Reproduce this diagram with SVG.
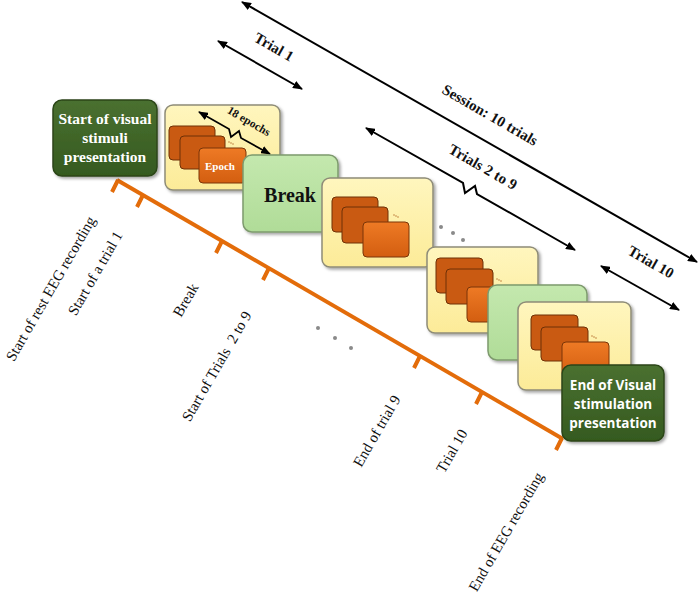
<svg xmlns="http://www.w3.org/2000/svg" width="700" height="598" viewBox="0 0 700 598">
<defs>
  <filter id="sh" x="-20%" y="-20%" width="140%" height="140%">
    <feDropShadow dx="2" dy="2" stdDeviation="1.5" flood-color="#000" flood-opacity="0.35"/>
  </filter>
  <linearGradient id="gY" x1="0" y1="0" x2="0" y2="1">
    <stop offset="0" stop-color="#FFF6BE"/>
    <stop offset="1" stop-color="#FCEB98"/>
  </linearGradient>
  <linearGradient id="gG" x1="0" y1="0" x2="0" y2="1">
    <stop offset="0" stop-color="#C4E8AE"/>
    <stop offset="1" stop-color="#B0DC98"/>
  </linearGradient>
  <linearGradient id="gD" x1="0" y1="0" x2="0" y2="1">
    <stop offset="0" stop-color="#4A7030"/>
    <stop offset="1" stop-color="#355A1F"/>
  </linearGradient>
  <linearGradient id="gO" x1="0" y1="0" x2="0" y2="1">
    <stop offset="0" stop-color="#EE7A25"/>
    <stop offset="1" stop-color="#D35E10"/>
  </linearGradient>
  <marker id="ah" viewBox="0 0 10 8" refX="9" refY="4" markerWidth="10" markerHeight="8" markerUnits="userSpaceOnUse" orient="auto-start-reverse">
    <path d="M0,0 L10,4 L0,8 Z" fill="#000"/>
  </marker>
  <style>
    .card{fill:url(#gY);stroke:#8E8C78;stroke-width:1.5;filter:url(#sh)}
    .brk{fill:url(#gG);stroke:#7E9A6E;stroke-width:1.5;filter:url(#sh)}
    .dark{fill:url(#gD);stroke:#2C4619;stroke-width:1.5;filter:url(#sh)}
    .ep{fill:#C95A12;stroke:#6E3006;stroke-width:1}
    .ep2{fill:url(#gO);stroke:#7A3508;stroke-width:1}
    .arr{stroke:#000;stroke-width:2;fill:none;marker-start:url(#ah);marker-end:url(#ah)}
    .tl{stroke:#E36C0A;stroke-width:4;fill:none;stroke-linecap:butt}
    .lbl{font-family:"Liberation Serif","Times New Roman",serif;font-size:15px;fill:#111;text-anchor:end}
    .alb{font-family:"Liberation Serif","Times New Roman",serif;font-size:15px;font-weight:bold;fill:#111;text-anchor:middle}
    .wt{font-family:"Liberation Serif","Times New Roman",serif;font-size:15.5px;font-weight:bold;fill:#fff;text-anchor:middle}
    .ws{font-family:"Open Sans","Liberation Sans",sans-serif;font-size:13.5px;font-weight:bold;fill:#fff;text-anchor:middle}
    .dot{fill:#8A8A8A}
    .sd{fill:#C08040}
  </style>
</defs>

<g id="connectors">
  <path class="arr" d="M242,2 L697,262"/>
  <path class="arr" d="M218,41 L302,89"/>
  <path class="arr" d="M366,128 L463,183 L465,193 L475,186 L477,194 L575,250"/>
  <path class="arr" d="M601,266 L679,310"/>
</g>

<g id="timeline">
  <path class="tl" d="M117,180 L563,439"/>
  <path class="tl" d="M118,180 L112,192 M143,195 L137,207 M222,241 L216,253 M269,268 L263,280 M420,356 L414,368 M482,392 L476,404 M562,438 L556,450"/>
  <circle class="dot" cx="318" cy="328" r="2"/>
  <circle class="dot" cx="335" cy="338" r="2"/>
  <circle class="dot" cx="351" cy="348" r="2"/>
</g>

<g id="timeline-labels">
  <text class="lbl" transform="translate(96,220) rotate(-60)">Start of rest EEG recording</text>
  <text class="lbl" transform="translate(123,235) rotate(-60)">Start of a trial 1</text>
  <text class="lbl" transform="translate(199,287) rotate(-60)">Break</text>
  <text class="lbl" xml:space="preserve" transform="translate(252,315) rotate(-60)">Start of Trials  2 to 9</text>
  <text class="lbl" transform="translate(401,399) rotate(-60)">End of trial 9</text>
  <text class="lbl" transform="translate(468,433) rotate(-60)">Trial 10</text>
  <text class="lbl" transform="translate(544,476) rotate(-60)">End of EEG recording</text>
</g>

<g id="arrow-labels">
  <text class="alb" transform="translate(274,47) rotate(30)" y="5">Trial 1</text>
  <text class="alb" transform="translate(490,115) rotate(30)" y="5">Session: 10 trials</text>
  <text class="alb" transform="translate(483,167) rotate(30)" y="5">Trials 2 to 9</text>
  <text class="alb" transform="translate(651,262) rotate(30)" y="5">Trial 10</text>
</g>

<g id="start-box">
  <rect class="dark" x="53" y="100" width="104" height="76" rx="9"/>
  <text class="wt" x="105" y="124">Start of visual</text>
  <text class="wt" x="105" y="143">stimuli</text>
  <text class="wt" x="105" y="162">presentation</text>
</g>

<g id="trial1">
  <rect class="card" x="165" y="105" width="115" height="85" rx="8"/>
  <rect class="ep" x="169" y="126" width="46" height="34" rx="4"/>
  <rect class="ep" x="180" y="136" width="45" height="33" rx="4"/>
  <rect class="ep2" x="199" y="148" width="47" height="35" rx="4"/>
  <text x="220" y="170" style="font-family:'Liberation Serif',serif;font-size:11px;font-weight:bold;fill:#fff;text-anchor:middle">Epoch</text>
  <circle class="sd" cx="229" cy="142" r="0.8"/><circle class="sd" cx="231" cy="143" r="0.8"/><circle class="sd" cx="233" cy="144" r="0.8"/>
  <path class="arr" style="stroke-width:1.8" d="M199,112 L229,129 L231,137 L239,131 L241,138 L270,154"/>
  <text class="alb" style="font-size:11.5px" transform="translate(249,121) rotate(30)" y="4">18 epochs</text>
</g>

<g id="break1">
  <rect class="brk" x="243" y="155" width="95" height="77" rx="9"/>
  <text x="290" y="202" style="font-family:'Liberation Serif',serif;font-size:20px;font-weight:bold;fill:#111;text-anchor:middle">Break</text>
</g>

<g id="trial2">
  <rect class="card" x="322" y="178" width="111" height="89" rx="8"/>
  <rect class="ep" x="332" y="197" width="46" height="35" rx="4"/>
  <rect class="ep" x="342" y="207" width="46" height="36" rx="4"/>
  <rect class="ep2" x="363" y="222" width="46" height="35" rx="4"/>
  <circle class="sd" cx="394" cy="215" r="0.8"/><circle class="sd" cx="396" cy="216" r="0.8"/><circle class="sd" cx="398" cy="217" r="0.8"/>
</g>

<g id="dots-mid">
  <circle class="dot" cx="441" cy="227" r="2"/>
  <circle class="dot" cx="453" cy="233" r="2"/>
  <circle class="dot" cx="463" cy="240" r="2"/>
</g>

<g id="trial9">
  <rect class="card" x="427" y="247" width="111" height="86" rx="8"/>
  <rect class="ep" x="436" y="258" width="47" height="35" rx="4"/>
  <rect class="ep" x="446" y="269" width="47" height="35" rx="4"/>
  <rect class="ep2" x="467" y="287" width="47" height="35" rx="4"/>
  <circle class="sd" cx="497" cy="279" r="0.8"/><circle class="sd" cx="499" cy="280" r="0.8"/><circle class="sd" cx="501" cy="281" r="0.8"/>
</g>

<g id="break9">
  <rect class="brk" x="488" y="285" width="99" height="75" rx="9"/>
</g>

<g id="trial10">
  <rect class="card" x="518" y="302" width="113" height="88" rx="8"/>
  <rect class="ep" x="531" y="315" width="47" height="35" rx="4"/>
  <rect class="ep" x="541" y="327" width="47" height="34" rx="4"/>
  <rect class="ep2" x="562" y="342" width="47" height="35" rx="4"/>
  <circle class="sd" cx="592" cy="336" r="0.8"/><circle class="sd" cx="594" cy="337" r="0.8"/><circle class="sd" cx="596" cy="338" r="0.8"/>
</g>

<g id="end-box">
  <rect class="dark" x="562" y="365" width="102" height="76" rx="9"/>
  <text class="ws" x="613" y="390">End of Visual</text>
  <text class="ws" x="613" y="409">stimulation</text>
  <text class="ws" x="613" y="428">presentation</text>
</g>
</svg>
